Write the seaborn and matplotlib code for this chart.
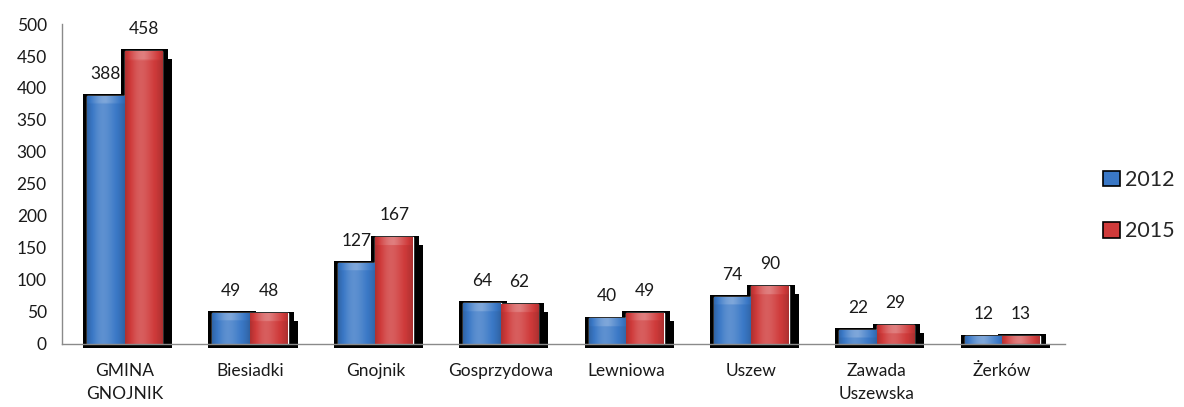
import numpy as np
import pandas as pd
import matplotlib
matplotlib.use("Agg")
import matplotlib.pyplot as plt
import matplotlib.patches as mpatches
import seaborn as sns
from matplotlib.colors import to_rgb

categories = ["GMINA\nGNOJNIK", "Biesiadki", "Gnojnik", "Gosprzydowa",
              "Lewniowa", "Uszew", "Zawada\nUszewska", "Żerków"]
values_2012 = [388, 49, 127, 64, 40, 74, 22, 12]
values_2015 = [458, 48, 167, 62, 49, 90, 29, 13]
years = ["2012", "2015"]

df = pd.DataFrame({
    "gmina": categories * 2,
    "rok": [years[0]] * len(categories) + [years[1]] * len(categories),
    "liczba": values_2012 + values_2015,
})

sns.set_style("white")
plt.rcParams["font.family"] = ["Lato", "DejaVu Sans"]

base = {"2012": "#3a78c6", "2015": "#cf3a3a"}

fig = plt.figure(figsize=(11.84, 4.07), dpi=100)
ax = fig.add_axes([0.0524, 0.155, 0.847, 0.786])

sns.barplot(data=df, x="gmina", y="liczba", hue="rok", palette=base,
            width=0.6, gap=0, ax=ax, legend=False, errorbar=None,
            saturation=1)

px = 8.0 / (0.847 * 1184)   # one pixel in x data units
py = 500.0 / (0.786 * 407)  # one pixel in y data units


def shade(c, f):
    c = np.array(to_rgb(c))
    if f >= 0:
        return c + (1 - c) * f
    return c * (1 + f)


# gradients + shadows
n_cat = len(categories)
for i, patch in enumerate(ax.patches[:2 * n_cat]):
    yr = years[i // n_cat]
    x0, w, h = patch.get_x(), patch.get_width(), patch.get_height()
    x1 = x0 + w
    col = base[yr]
    # shadow
    ax.add_patch(mpatches.Rectangle((x0 - 4 * px, -4 * py), w + 10 * px, h + 4 * py + 1.5 * py,
                                    color="black", zorder=1, clip_on=False, lw=0))
    ax.add_patch(mpatches.Rectangle((x1, -4 * py), 10 * px, h + 4 * py - 8 * py,
                                    color="black", zorder=1, clip_on=False, lw=0))
    # gradient fill
    nx, ny = 60, 120
    xs = np.linspace(0, 1, nx)
    prof = 0.18 * np.exp(-((xs - 0.42) / 0.28) ** 2) - 0.18 * (np.abs(xs - 0.5) * 2) ** 3
    img = np.zeros((ny, nx, 3))
    ys = np.linspace(h, 0, ny)
    bevel = 8 * py
    for r, yv in enumerate(ys):
        for k in range(nx):
            f = prof[k]
            if yv > h - bevel:
                f += 0.18 * (1 - abs(xs[k] - 0.5) * 1.6)
            img[r, k] = shade(col, f)
    img = np.clip(img, 0, 1)
    im = ax.imshow(img, extent=(x0, x1, 0, h), aspect="auto", zorder=2,
                   interpolation="bilinear")
    im.set_clip_path(patch)
    patch.set_zorder(2)

    ax.annotate(str(int(round(h))), (x0 + w / 2, h), xytext=(0, 10),
                textcoords="offset points", ha="center", va="bottom",
                fontsize=12.5, color="#1a1a1a", zorder=5)

ax.set_xlim(-0.5, n_cat - 0.5)
ax.set_ylim(0, 500)
ax.set_yticks(np.arange(0, 501, 50))
ax.set_xlabel("")
ax.set_ylabel("")
ax.set_xticks(range(n_cat))
ax.set_xticklabels(categories, fontsize=12.5, color="#1a1a1a", linespacing=1.5)
ax.set_xticks(np.arange(-0.5, n_cat, 1), minor=True)
ax.tick_params(axis="x", which="major", length=0, pad=14)
ax.tick_params(axis="x", which="minor", length=6, color="#8a8a8a", direction="out")
ax.tick_params(axis="y", length=5, color="#8a8a8a", direction="out", labelsize=12.5,
               labelcolor="#1a1a1a", pad=6)
for s in ["top", "right"]:
    ax.spines[s].set_visible(False)
for s in ["left", "bottom"]:
    ax.spines[s].set_color("#8a8a8a")
    ax.spines[s].set_linewidth(1.0)
    ax.spines[s].set_zorder(3)

handles = [mpatches.Patch(facecolor=base[y], edgecolor="black", lw=1.2, label=y) for y in years]
fig.legend(handles=handles, loc="center left", bbox_to_anchor=(0.932, 0.495),
           frameon=False, fontsize=15.5, handlelength=0.75, handleheight=0.75,
           handletextpad=0.25, labelspacing=1.45, borderpad=0, borderaxespad=0)

fig.savefig("out.png", dpi=100)
